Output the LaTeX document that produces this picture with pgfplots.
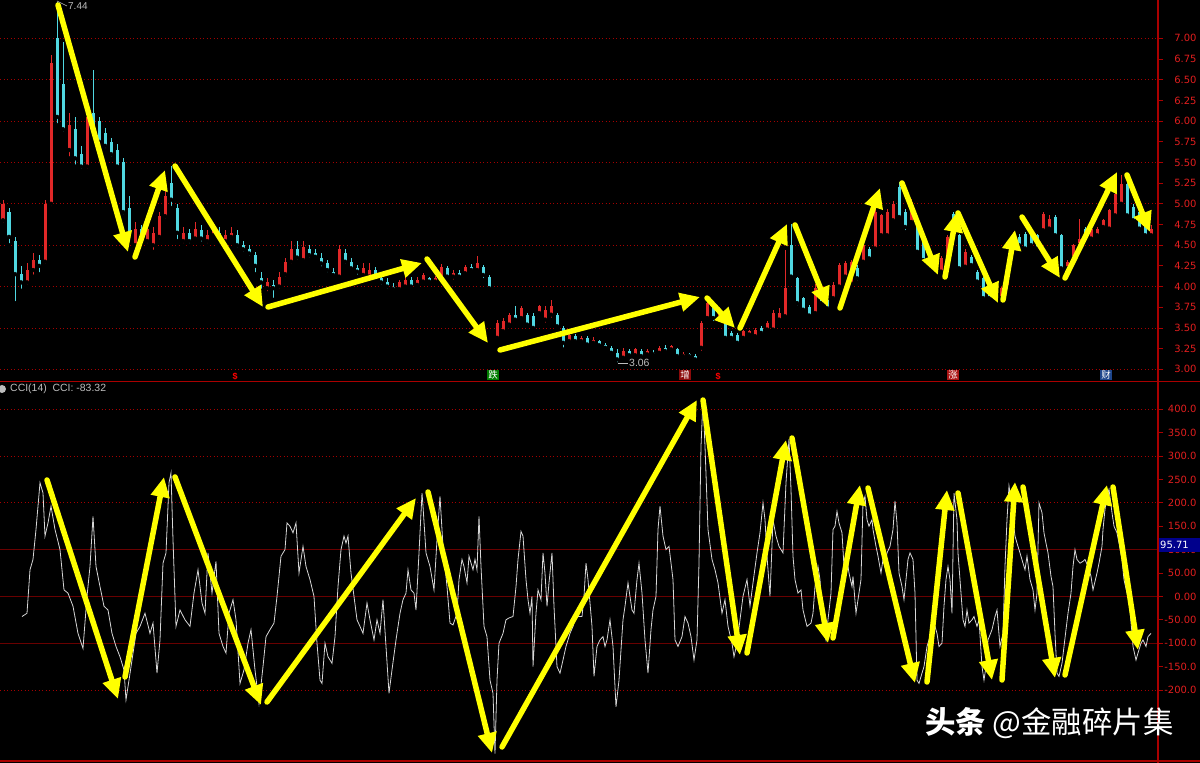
\documentclass[border=0pt]{standalone}
\usepackage{pgfplots}
\pgfplotsset{compat=1.18}
\usepackage{pgfplotstable}
\usepackage{fontspec}
\setmainfont{Liberation Sans}
\newfontfamily\tickfont{DejaVu Sans}
\newfontfamily\cjk{Noto Sans CJK SC}
\usetikzlibrary{arrows.meta}

\definecolor{axred}{RGB}{170,0,0}
\definecolor{tickred}{RGB}{225,30,30}
\definecolor{gridred}{RGB}{165,0,0}
\definecolor{solidred}{RGB}{105,0,0}
\definecolor{upred}{RGB}{225,40,40}
\definecolor{dncyan}{RGB}{80,215,225}
\definecolor{ccigray}{RGB}{215,215,215}
\definecolor{yel}{RGB}{255,255,0}
\definecolor{labgray}{RGB}{190,190,190}
\definecolor{boxblue}{RGB}{0,0,140}
\definecolor{mkgreen}{RGB}{0,125,0}
\definecolor{mkdred}{RGB}{140,10,10}
\definecolor{mkred}{RGB}{170,20,20}
\definecolor{mkblue}{RGB}{30,70,140}

% candles: x open close high low
\pgfplotstableread{
x o c h l
3 4.80 5.00 5.05 4.75
9 4.90 4.60 4.95 4.50
15 4.55 4.15 4.60 3.80
21 4.15 4.05 4.25 3.95
27 4.05 4.20 4.28 4.00
33 4.20 4.32 4.40 4.12
39 4.32 4.25 4.38 4.15
45 4.30 5.00 5.05 4.25
51 5.00 6.70 6.80 4.95
57 7.00 6.05 7.44 5.95
63 6.45 5.90 6.95 5.85
69 5.65 5.95 6.10 5.55
75 5.90 5.55 6.05 5.45
81 5.60 5.45 5.70 5.40
87 5.45 6.05 6.10 5.40
93 6.10 5.90 6.62 5.85
99 6.00 5.75 6.05 5.70
105 5.85 5.70 5.92 5.65
111 5.75 5.60 5.80 5.55
117 5.65 5.45 5.72 5.42
123 5.50 4.90 5.55 4.85
129 4.95 4.60 5.10 4.55
135 4.50 4.70 4.78 4.45
141 4.70 4.55 4.75 4.48
147 4.55 4.70 4.80 4.50
153 4.50 4.65 4.72 4.42
159 4.60 4.85 4.90 4.55
165 4.85 5.10 5.15 4.80
171 5.25 5.05 5.46 4.95
177 4.95 4.65 5.00 4.55
183 4.55 4.65 4.72 4.50
189 4.65 4.55 4.70 4.50
195 4.58 4.70 4.78 4.55
201 4.68 4.58 4.75 4.52
207 4.55 4.62 4.68 4.50
213 4.62 4.68 4.75 4.58
219 4.65 4.55 4.72 4.50
225 4.55 4.62 4.68 4.50
231 4.60 4.65 4.72 4.56
237 4.62 4.50 4.68 4.45
243 4.50 4.45 4.55 4.40
249 4.45 4.40 4.50 4.35
255 4.38 4.25 4.42 4.15
261 4.10 4.05 4.18 3.95
267 3.98 4.05 4.10 3.92
273 4.02 3.98 4.08 3.84
279 4.00 4.12 4.18 3.95
285 4.15 4.30 4.35 4.10
291 4.30 4.45 4.55 4.25
297 4.45 4.35 4.55 4.30
303 4.32 4.48 4.55 4.28
309 4.45 4.38 4.50 4.33
315 4.40 4.36 4.45 4.32
321 4.35 4.28 4.40 4.22
327 4.28 4.20 4.32 4.15
333 4.18 4.14 4.22 4.10
339 4.12 4.45 4.50 4.10
345 4.40 4.30 4.45 4.25
351 4.30 4.22 4.35 4.18
357 4.22 4.18 4.26 4.12
363 4.14 4.22 4.28 4.08
369 4.12 4.20 4.28 4.08
375 4.20 4.12 4.24 4.08
381 4.10 4.05 4.15 4.00
387 4.05 4.00 4.10 3.95
393 4.00 3.97 4.04 3.93
399 3.97 4.05 4.08 3.95
405 4.00 4.08 4.12 3.97
411 4.08 4.00 4.12 3.96
417 4.02 4.08 4.12 3.98
423 4.06 4.14 4.16 4.04
429 4.10 4.06 4.12 4.03
435 4.06 4.10 4.13 4.04
441 4.10 4.24 4.27 4.08
447 4.22 4.12 4.25 4.08
453 4.12 4.16 4.20 4.06
459 4.16 4.12 4.20 4.08
465 4.16 4.24 4.26 4.14
471 4.24 4.20 4.27 4.16
477 4.20 4.28 4.37 4.16
483 4.24 4.14 4.26 4.08
489 4.12 3.98 4.14 3.96
497 3.38 3.56 3.60 3.36
503 3.46 3.58 3.62 3.44
509 3.54 3.66 3.68 3.52
515 3.66 3.60 3.76 3.56
521 3.62 3.74 3.76 3.60
527 3.66 3.54 3.68 3.52
533 3.64 3.50 3.68 3.48
539 3.68 3.76 3.78 3.66
545 3.60 3.72 3.76 3.54
551 3.66 3.76 3.84 3.60
557 3.66 3.52 3.68 3.48
563 3.50 3.32 3.52 3.24
569 3.34 3.42 3.44 3.30
575 3.40 3.34 3.43 3.31
581 3.34 3.38 3.40 3.30
587 3.38 3.30 3.40 3.28
593 3.32 3.36 3.39 3.28
599 3.34 3.29 3.35 3.27
605 3.30 3.26 3.32 3.22
611 3.26 3.20 3.28 3.18
617 3.20 3.12 3.24 3.06
623 3.14 3.22 3.26 3.12
629 3.22 3.17 3.25 3.15
635 3.17 3.24 3.26 3.14
641 3.22 3.16 3.24 3.14
647 3.18 3.22 3.24 3.16
653 3.20 3.18 3.23 3.16
659 3.20 3.26 3.28 3.19
665 3.26 3.22 3.30 3.20
671 3.24 3.28 3.30 3.22
677 3.24 3.16 3.26 3.14
683 3.16 3.19 3.21 3.12
689 3.18 3.16 3.20 3.14
695 3.16 3.12 3.18 3.10
701 3.26 3.56 3.58 3.20
707 3.62 3.80 3.84 3.58
713 3.76 3.62 3.78 3.56
719 3.62 3.72 3.75 3.58
725 3.56 3.38 3.58 3.34
731 3.44 3.38 3.46 3.35
737 3.42 3.32 3.44 3.30
743 3.38 3.46 3.48 3.36
749 3.42 3.46 3.48 3.40
755 3.40 3.48 3.50 3.38
761 3.50 3.44 3.52 3.42
767 3.48 3.56 3.58 3.46
773 3.48 3.68 3.72 3.46
779 3.60 3.68 3.74 3.58
785 3.64 3.98 4.44 3.62
791 4.50 4.12 4.76 4.08
797 4.10 3.80 4.12 3.75
803 3.86 3.72 3.88 3.70
809 3.75 3.65 3.78 3.62
815 3.68 3.98 4.03 3.66
821 3.92 3.80 3.95 3.78
827 3.84 3.74 3.86 3.70
833 3.86 4.02 4.06 3.84
839 4.00 4.26 4.28 3.98
845 4.12 4.28 4.31 4.10
851 4.04 4.30 4.32 4.02
857 4.22 4.10 4.26 4.05
863 4.30 4.50 4.53 4.28
869 4.46 4.34 4.48 4.30
875 4.46 4.90 4.94 4.44
881 4.62 4.86 4.88 4.58
887 4.62 4.90 4.94 4.60
893 4.80 5.00 5.04 4.76
899 5.20 4.84 5.26 4.80
905 4.90 4.72 4.94 4.66
911 4.78 5.02 5.06 4.76
917 4.72 4.42 4.76 4.40
923 4.54 4.32 4.58 4.30
929 4.44 4.28 4.46 4.24
935 4.20 4.34 4.36 4.18
941 4.18 4.34 4.37 4.16
947 4.30 4.60 4.62 4.28
953 4.88 4.68 4.90 4.62
959 4.62 4.22 4.64 4.18
965 4.24 4.42 4.45 4.22
971 4.36 4.26 4.38 4.24
977 4.18 4.06 4.20 4.02
983 4.10 3.86 4.12 3.82
989 4.02 3.86 4.04 3.82
995 3.82 3.98 4.00 3.78
1001 3.86 3.98 4.00 3.80
1007 4.00 4.20 4.22 3.98
1013 4.48 4.64 4.66 4.46
1019 4.60 4.50 4.64 4.46
1025 4.64 4.46 4.66 4.44
1031 4.62 4.50 4.64 4.48
1037 4.62 4.46 4.64 4.44
1043 4.68 4.88 4.90 4.66
1049 4.70 4.82 4.86 4.68
1055 4.84 4.62 4.86 4.58
1061 4.62 4.22 4.64 4.18
1067 4.22 4.30 4.32 4.18
1073 4.34 4.50 4.52 4.32
1079 4.50 4.58 4.82 4.48
1085 4.70 4.56 4.72 4.54
1091 4.58 4.70 4.72 4.56
1097 4.62 4.70 4.72 4.58
1103 4.72 4.80 4.82 4.70
1109 4.70 4.92 4.94 4.68
1115 4.86 5.12 5.14 4.84
1121 5.00 5.24 5.35 4.98
1127 5.24 4.86 5.28 4.84
1133 4.96 4.80 5.00 4.76
1139 4.90 4.70 4.92 4.66
1145 4.74 4.62 4.76 4.58
1151 4.62 4.70 4.74 4.58
}\candles

\pgfplotstableread{
x y
22 -43
27 -36
30 57
33 79
36 143
40 243
43 221
45 129
48 157
51 193
55 143
60 100
64 14
68 7
73 -21
78 -79
83 -111
87 0
90 64
93 171
96 64
100 21
104 -21
108 -29
112 -79
116 -107
120 -129
124 -157
126 -221
129 -179
132 -136
136 -79
140 -64
145 -36
150 -79
153 -57
157 -164
160 -93
163 71
166 93
169 243
171 264
173 121
176 -64
180 -29
185 -50
190 -64
194 7
198 57
202 -14
205 -36
208 93
212 7
216 75
219 -79
223 -107
226 -121
229 -36
233 -7
236 -50
240 -186
244 -157
248 -100
251 -71
255 -157
259 -229
263 -150
266 -86
270 -71
274 -57
277 0
281 86
285 100
287 157
290 150
293 136
296 157
299 50
303 107
306 64
310 36
314 0
317 -100
320 -179
322 -186
325 -100
328 -129
332 -143
335 -86
338 21
341 100
344 129
346 114
348 129
351 50
354 0
357 -50
360 -64
363 -79
367 -14
370 -50
374 -93
377 -50
380 -79
383 -7
386 -107
389 -207
392 -157
396 -93
400 -36
403 -7
406 7
408 57
411 14
414 7
416 -29
419 93
422 221
423 193
426 93
430 64
434 14
437 121
440 214
443 107
447 21
450 -57
453 -61
457 -36
459 36
462 79
464 64
467 29
469 86
473 57
475 79
477 57
479 171
481 64
484 -64
487 -86
490 -179
493 -207
495 -336
497 -179
499 -100
503 -79
506 -50
509 -46
513 -43
516 21
518 79
521 139
523 129
526 36
528 -7
530 -36
532 0
533 -150
536 -36
538 14
541 -7
543 93
545 50
547 -21
549 29
552 93
554 -21
557 -150
560 -164
563 -136
566 -107
570 -79
573 -64
575 -50
578 -43
582 -43
584 0
586 71
588 36
592 -64
594 -171
597 -107
600 -93
603 -86
605 -107
607 -93
610 -50
613 -107
616 -236
619 -179
623 -50
625 -21
628 29
632 -29
634 -36
637 36
639 71
642 7
645 -93
648 -164
651 -71
653 -29
656 0
658 143
660 193
663 129
666 100
669 107
673 36
675 -93
678 -107
682 -86
685 -43
688 -57
691 -86
694 -136
697 -93
699 71
701 321
703 421
705 321
708 143
712 79
715 57
718 29
722 -36
725 -7
728 -64
732 -100
734 -129
737 -100
740 -50
743 0
747 36
750 -21
753 29
757 93
760 136
763 200
765 164
767 86
770 0
773 164
776 129
779 107
783 93
786 243
789 336
791 229
793 86
795 36
798 7
801 14
803 -29
807 -64
811 -57
813 -36
815 21
818 64
820 36
823 -64
826 -93
828 -50
831 7
833 143
835 150
837 182
839 157
842 136
844 64
847 79
849 50
852 21
853 43
856 -36
858 -7
861 36
863 200
865 214
867 164
869 150
872 164
873 143
876 107
878 86
881 50
883 79
885 64
887 93
890 107
893 143
895 204
897 157
899 50
902 21
904 -7
906 36
908 79
910 93
913 79
915 7
917 -179
919 -186
922 -164
924 -150
927 -107
930 -86
933 -79
935 -64
937 -79
939 -107
942 -100
944 -21
946 36
948 64
950 36
952 -36
954 221
957 164
958 93
961 7
963 -50
965 -64
967 -29
969 -57
972 -50
974 -43
977 -64
979 -50
982 -150
984 -179
986 -150
988 -93
992 -71
995 -43
997 -29
1000 -107
1003 -79
1005 64
1007 164
1009 236
1011 207
1013 164
1015 129
1017 114
1020 93
1023 71
1025 57
1027 86
1030 36
1033 14
1035 -29
1037 7
1039 200
1042 179
1044 136
1046 114
1048 93
1051 43
1053 21
1055 -79
1057 -164
1059 -171
1062 -143
1064 -107
1066 -71
1068 -36
1071 7
1073 64
1075 100
1077 79
1080 71
1083 75
1085 79
1088 64
1091 43
1093 14
1097 50
1099 71
1102 107
1103 143
1105 186
1107 214
1109 229
1112 179
1114 150
1117 136
1119 114
1122 79
1124 36
1127 7
1129 -7
1132 -79
1133 -107
1136 -136
1138 -121
1141 -100
1143 -93
1146 -107
1148 -86
1151 -79
}\cci

\pgfplotsset{
  panel/.style={
    scale only axis, width=1158bp, xmin=0, xmax=1158,
    axis x line=none, axis y line=right,
    y axis line style={-, draw=axred, line width=1.2bp},
    tick align=outside, major tick length=5bp,
    ytick style={draw=axred, line width=0.8bp},
    yticklabel style={font=\tickfont\fontsize{10}{12}\selectfont, text=tickred, anchor=east, xshift=37bp},
  },
  wick/.style={only marks, mark=none, forget plot,
    error bars/.cd, y dir=plus, y explicit, error mark=none,
    error bar style={draw=#1, line width=0.8bp}},
  body/.style={only marks, mark=none, forget plot,
    error bars/.cd, y dir=plus, y explicit, error mark=none,
    error bar style={draw=#1, line width=3bp}},
}

\begin{document}
\begin{tikzpicture}
\useasboundingbox (0,0) rectangle (1200bp,763bp);
\fill[black] (0,0) rectangle (1200bp,763bp);

% price panel
\begin{axis}[panel, at={(0bp,381bp)}, anchor=south west, height=382bp,
  ymin=2.847, ymax=7.463,
  ytick={3,3.25,3.5,3.75,4,4.25,4.5,4.75,5,5.25,5.5,5.75,6,6.25,6.5,6.75,7},
  yticklabels={3.00,3.25,3.50,3.75,4.00,4.25,4.50,4.75,5.00,5.25,5.50,5.75,6.00,6.25,6.50,6.75,7.00},
  extra y ticks={3,3.5,4,4.5,5,5.5,6,6.5,7}, extra y tick labels={},
  extra y tick style={grid=major, major grid style={draw=gridred, dash pattern=on 1bp off 2.5bp, line width=0.9bp}},
]
\addplot[restrict expr to domain={\thisrow{c}-\thisrow{o}}{0:10}, wick=upred]
  table[x=x, y=l, y error plus expr=\thisrow{h}-\thisrow{l}] {\candles};
\addplot[restrict expr to domain={\thisrow{c}-\thisrow{o}}{0:10}, body=upred]
  table[x=x, y=o, y error plus expr=\thisrow{c}-\thisrow{o}] {\candles};
\addplot[restrict expr to domain={\thisrow{c}-\thisrow{o}}{-10:-0.001}, wick=dncyan]
  table[x=x, y=l, y error plus expr=\thisrow{h}-\thisrow{l}] {\candles};
\addplot[restrict expr to domain={\thisrow{c}-\thisrow{o}}{-10:-0.001}, body=dncyan]
  table[x=x, y=c, y error plus expr=\thisrow{o}-\thisrow{c}] {\candles};
\end{axis}

% CCI panel
\begin{axis}[panel, at={(0bp,2bp)}, anchor=south west, height=378bp,
  ymin=-351.8, ymax=456.2,
  ytick={-200,-150,-100,-50,0,50,100,150,200,250,300,350,400},
  yticklabels={-200.0,-150.0,-100.0,-50.00,0.00,50.00,100.0,150.0,200.0,250.0,300.0,350.0,400.0},
  extra y ticks={-200,200,300,400}, extra y tick labels={},
  extra y tick style={grid=major, major grid style={draw=gridred, dash pattern=on 1bp off 2.5bp, line width=0.9bp}},
]
\draw[solidred, line width=1bp] (axis cs:0,100) -- (axis cs:1158,100);
\draw[solidred, line width=1bp] (axis cs:0,0) -- (axis cs:1158,0);
\draw[solidred, line width=1bp] (axis cs:0,-100) -- (axis cs:1158,-100);
\addplot[ccigray, line width=0.8bp, mark=none] table[x=x, y=y] {\cci};
\end{axis}

\begin{scope}[x=1bp, y=1bp]
% frame lines
\draw[axred, line width=1.5bp] (0,381.5) -- (1200,381.5);
\draw[axred, line width=1.5bp] (0,2) -- (1200,2);
\draw[axred, line width=1.2bp] (1158,0) -- (1158,763);

% value box
\fill[boxblue] (1159,211) rectangle (1200,225);
\node[anchor=west, text=white, font=\tickfont\fontsize{10}{12}\selectfont, inner sep=0] at (1160,218) {95.71};

% labels
\draw[labgray, line width=0.6bp] (57,762) -- (67,757);
\node[anchor=west, text=labgray, font=\fontsize{10}{12}\selectfont, inner sep=1bp] at (67,757) {7.44};
\draw[labgray, line width=0.6bp] (618,400) -- (628,400);
\node[anchor=west, text=labgray, font=\fontsize{10.5}{12}\selectfont, inner sep=1bp] at (628,400) {3.06};
\fill[labgray] (2,374) circle (4);
\node[anchor=west, text=labgray, font=\fontsize{10.5}{12}\selectfont, inner sep=0] at (10,374) {CCI(14)\ \ CCI: -83.32};

% event markers
\node[text=red, font=\fontsize{9}{9}\selectfont\bfseries, inner sep=0] at (235,386) {\$};
\node[text=red, font=\fontsize{9}{9}\selectfont\bfseries, inner sep=0] at (718,386) {\$};
\node[fill=mkgreen, text=white, font=\cjk\fontsize{9.5}{10}\selectfont, inner sep=0.8bp] at (493,388) {跌};
\node[fill=mkdred, text=white, font=\cjk\fontsize{9.5}{10}\selectfont, inner sep=0.8bp] at (685,388) {增};
\node[fill=mkred, text=white, font=\cjk\fontsize{9.5}{10}\selectfont, inner sep=0.8bp] at (953,388) {涨};
\node[fill=mkblue, text=white, font=\cjk\fontsize{9.5}{10}\selectfont, inner sep=0.8bp] at (1106,388) {财};

% yellow annotation arrows
\tikzset{yarr/.style={draw=yel, line width=5.5bp, line cap=round, -{Triangle[length=20bp,width=18bp,fill=yel]}}}
\draw[yarr] (58,758) -- (128,511);
\draw[yarr] (135,506) -- (165,593);
\draw[yarr] (175,597) -- (263,456);
\draw[yarr] (268,456) -- (422,500);
\draw[yarr] (427,504) -- (488,420);
\draw[yarr] (500,413) -- (700,466);
\draw[yarr] (707,465) -- (735,435);
\draw[yarr] (740,435) -- (787,539);
\draw[yarr] (795,538) -- (828,456);
\draw[yarr] (840,455) -- (880,575);
\draw[yarr] (902,580) -- (938,488);
\draw[yarr] (945,486) -- (957,551);
\draw[yarr] (958,550) -- (998,460);
\draw[yarr] (1003,463) -- (1015,533);
\draw[yarr] (1022,546) -- (1060,485);
\draw[yarr] (1065,485) -- (1117,591);
\draw[yarr] (1127,588) -- (1150,531);

\draw[yarr] (47,283) -- (118,64);
\draw[yarr] (125,86) -- (164,286);
\draw[yarr] (175,286) -- (261,58);
\draw[yarr] (267,61) -- (416,265);
\draw[yarr] (428,271) -- (492,10);
\draw[yarr] (502,16) -- (697,363);
\draw[yarr] (703,363) -- (740,108);
\draw[yarr] (747,110) -- (786,323);
\draw[yarr] (792,325) -- (828,120);
\draw[yarr] (833,125) -- (860,278);
\draw[yarr] (868,275) -- (915,80);
\draw[yarr] (927,81) -- (947,273);
\draw[yarr] (958,270) -- (992,83);
\draw[yarr] (1002,83) -- (1015,281);
\draw[yarr] (1023,276) -- (1055,85);
\draw[yarr] (1065,88) -- (1107,278);
\draw[yarr] (1113,276) -- (1138,113);

% watermark
\node[anchor=west, text=white, inner sep=0, font=\cjk\fontsize{30.5}{32}\selectfont] at (925,40) {\textbf{头条} @金融碎片集};
\end{scope}
\end{tikzpicture}
\end{document}
